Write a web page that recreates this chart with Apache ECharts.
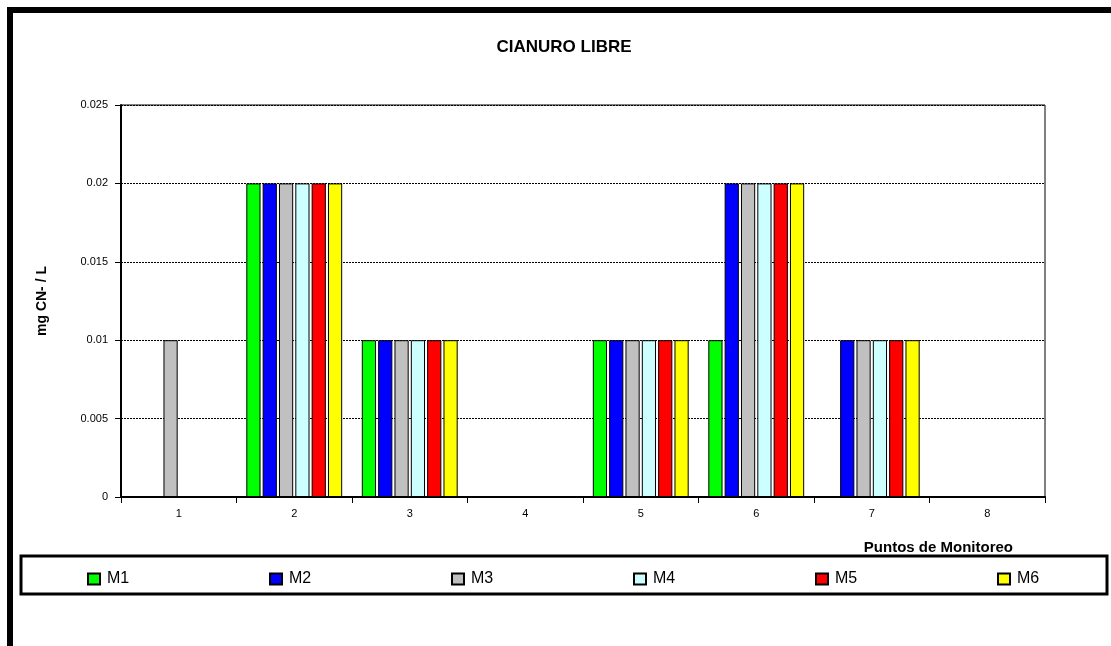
<!DOCTYPE html>
<html>
<head>
<meta charset="utf-8">
<script src="https://cdn.jsdelivr.net/npm/echarts@6/dist/echarts.min.js"></script>
<style>
  html, body { margin: 0; padding: 0; background: #fff; }
  #chart { width: 1111px; height: 646px; }
</style>
</head>
<body>
<div id="chart"></div>
<script>
// puntos de monitoreo
var categories = ['1', '2', '3', '4', '5', '6', '7', '8'];
var seriesNames = ['M1', 'M2', 'M3', 'M4', 'M5', 'M6'];
var seriesColors = ['#00ff00', '#0000ff', '#c0c0c0', '#ccffff', '#ff0000', '#ffff00'];
// mg CN- / L, null = sin barra
var m1 = [null, 0.02, 0.01, null, 0.01, 0.01, null, null];
var m2 = [null, 0.02, 0.01, null, 0.01, 0.02, 0.01, null];
var m3 = [0.01, 0.02, 0.01, null, 0.01, 0.02, 0.01, null];
var m4 = [null, 0.02, 0.01, null, 0.01, 0.02, 0.01, null];
var m5 = [null, 0.02, 0.01, null, 0.01, 0.02, 0.01, null];
var m6 = [null, 0.02, 0.01, null, 0.01, 0.02, 0.01, null];
var allData = [m1, m2, m3, m4, m5, m6];

var font = 'Liberation Sans, Arial, sans-serif';
var myChart = echarts.init(document.getElementById('chart'));

var series = [];
var legends = [];
for (var i = 0; i < seriesNames.length; ++i) {
    series.push({
        name: seriesNames[i],
        type: 'bar',
        data: allData[i],
        barGap: '15%',
        barCategoryGap: '17%',
        itemStyle: { color: seriesColors[i], borderColor: '#000', borderWidth: 1 }
    });
    // one legend per item so the spacing matches the original
    legends.push({
        data: [{ name: seriesNames[i], icon: 'rect' }],
        left: 82 + i * 182,
        top: 566,
        itemWidth: 12,
        itemHeight: 11,
        itemGap: 0,
        selectedMode: false,
        textStyle: { fontFamily: font, fontSize: 16, color: '#000', padding: [6, 0, 0, 2] }
    });
}

myChart.setOption({
    animation: false,
    backgroundColor: '#fff',
    title: {
        text: 'CIANURO LIBRE',
        left: 559,
        textAlign: 'center',
        top: 34,
        textStyle: { fontFamily: font, fontSize: 17, fontWeight: 'bold', color: '#000' }
    },
    legend: legends,
    grid: {
        left: 121, top: 105, right: 66, bottom: 149,
        show: true, borderColor: '#000', borderWidth: 1, backgroundColor: '#fff'
    },
    xAxis: {
        type: 'category',
        data: categories,
        axisLine: { lineStyle: { color: '#000', width: 2 } },
        axisTick: { show: true, length: 6, lineStyle: { color: '#000', width: 1 } },
        axisLabel: { fontFamily: font, fontSize: 11, color: '#000', margin: 11 },
        splitLine: { show: false }
    },
    yAxis: {
        type: 'value',
        min: 0,
        max: 0.025,
        interval: 0.005,
        name: 'mg CN- / L',
        nameLocation: 'middle',
        nameRotate: 90,
        nameGap: 72,
        nameTextStyle: { fontFamily: font, fontSize: 14, fontWeight: 'bold', color: '#000' },
        axisLine: { show: true, lineStyle: { color: '#000', width: 2 } },
        axisTick: { show: true, length: 6, lineStyle: { color: '#000', width: 1 } },
        axisLabel: { fontFamily: font, fontSize: 11, color: '#000', margin: 13 },
        splitLine: { show: true, lineStyle: { color: '#000', width: 1, type: [2, 1] } }
    },
    series: series,
    graphic: [
        {
            // marco exterior
            type: 'rect',
            shape: { x: 10, y: 10, width: 1200, height: 800 },
            style: { fill: 'none', stroke: '#000', lineWidth: 6 },
            silent: true
        },
        {
            // caja de leyenda
            type: 'rect',
            shape: { x: 21, y: 556, width: 1086, height: 38 },
            style: { fill: 'none', stroke: '#000', lineWidth: 3 },
            silent: true,
            z: -1
        },
        {
            type: 'text',
            right: 1111 - 1013,
            top: 540,
            style: { text: 'Puntos de Monitoreo', font: 'bold 15px ' + font, fill: '#000' }
        }
    ]
});
</script>
</body>
</html>
